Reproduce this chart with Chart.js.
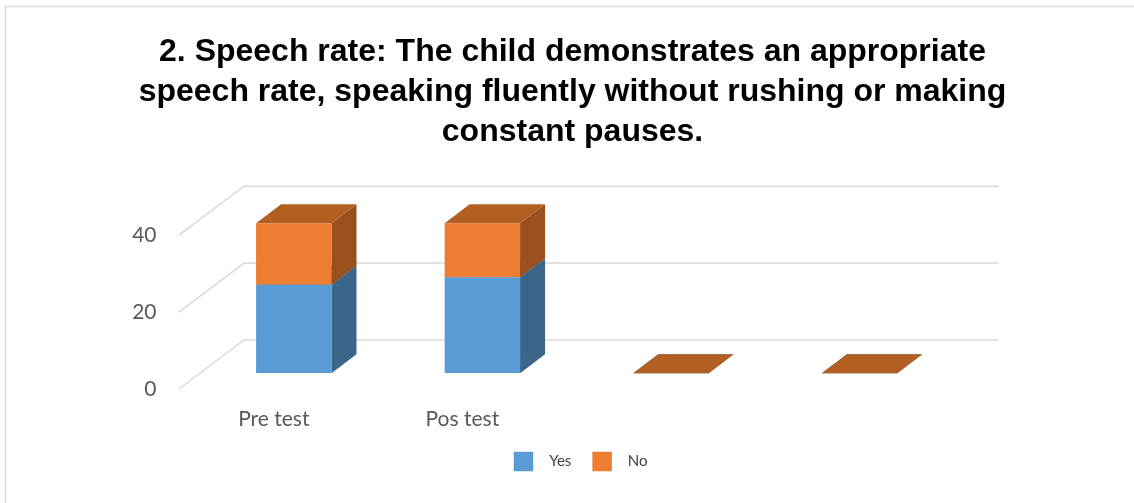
<!DOCTYPE html>
<html lang="en">
    <head>
        <meta charset="UTF-8">
        <title>Speech rate</title>
        <script src="https://cdn.jsdelivr.net/npm/chart.js"></script>
        <style>
            body, html {
                margin: 0;
                padding: 0;
                background: #ffffff;
                overflow: hidden;
            }
            #chartContainer {
                width: 1134px;
                height: 503px;
            }
        </style>
    </head>
    <body>
        <div id="chartContainer">
            <canvas id="speechChart"></canvas>
        </div>

        <script>
            const categories = ['Pre test', 'Pos test', '', ''];
            const yesValues = [23, 25, 0, 0];
            const noValues = [16, 14, 0, 0];
            const titleLines = [
                '2. Speech rate: The child demonstrates an appropriate',
                'speech rate, speaking fluently without rushing or making',
                'constant pauses.'
            ];

            // faces: [front, side, top]
            const yesColors = ['#5B9BD5', '#3B6589', '#4A7DAB'];
            const noColors = ['#ED7D31', '#9A501F', '#B45F22'];

            // oblique offsets, relative to the plane of the bar fronts
            const barDepth = { dx: 25, dy: -19 };
            const backWall = { dx: 44.5, dy: -33.3 };
            const sideFront = { dx: -20.5, dy: 15.7 };

            const legendFont = '15px Lato, "Open Sans", sans-serif';

            const wallsAndDepth = {
                id: 'wallsAndDepth',
                afterLayout(chart) {
                    chart.titleBlock.left += 5.5;
                    chart.titleBlock.right += 5.5;
                },
                beforeDraw(chart) {
                    const ctx = chart.ctx;
                    ctx.save();
                    ctx.strokeStyle = '#D9D9D9';
                    ctx.lineWidth = 1.5;
                    ctx.beginPath();
                    ctx.moveTo(5.5, chart.height);
                    ctx.lineTo(5.5, 6.5);
                    ctx.lineTo(chart.width, 6.5);
                    ctx.stroke();
                    ctx.restore();
                },
                beforeDatasetsDraw(chart) {
                    const ctx = chart.ctx;
                    const area = chart.chartArea;
                    const y = chart.scales.y;

                    ctx.save();
                    ctx.strokeStyle = '#D9D9D9';
                    ctx.lineWidth = 1.5;
                    y.ticks.forEach(t => {
                        const py = y.getPixelForValue(t.value);
                        const bx = area.left + backWall.dx;
                        const by = py + backWall.dy;
                        ctx.beginPath();
                        ctx.moveTo(area.left + sideFront.dx, py + sideFront.dy);
                        ctx.lineTo(bx, by);
                        ctx.lineTo(area.right + backWall.dx, by);
                        ctx.stroke();
                    });

                    // side and top faces of the stacked columns
                    chart.data.datasets.forEach((ds, di) => {
                        const meta = chart.getDatasetMeta(di);
                        meta.data.forEach(bar => {
                            const p = bar.getProps(['x', 'y', 'base', 'width'], true);
                            const left = p.x - p.width / 2;
                            const right = p.x + p.width / 2;
                            const top = Math.min(p.y, p.base);
                            const bottom = Math.max(p.y, p.base);

                            ctx.fillStyle = ds.faceColors[1];
                            ctx.beginPath();
                            ctx.moveTo(right, top);
                            ctx.lineTo(right + barDepth.dx, top + barDepth.dy);
                            ctx.lineTo(right + barDepth.dx, bottom + barDepth.dy);
                            ctx.lineTo(right, bottom);
                            ctx.closePath();
                            ctx.fill();

                            ctx.fillStyle = ds.faceColors[2];
                            ctx.beginPath();
                            ctx.moveTo(left, top);
                            ctx.lineTo(left + barDepth.dx, top + barDepth.dy);
                            ctx.lineTo(right + barDepth.dx, top + barDepth.dy);
                            ctx.lineTo(right, top);
                            ctx.closePath();
                            ctx.fill();
                        });
                    });
                    ctx.restore();
                },
                afterDraw(chart) {
                    // legend row under the axis, centred on the plot
                    const ctx = chart.ctx;
                    const box = 19.5, gap = 16, spacing = 21;
                    const area = chart.chartArea;
                    const cy = 461.5;
                    ctx.save();
                    ctx.font = legendFont;
                    const items = chart.data.datasets.map(ds => ({
                        text: ds.label,
                        color: ds.backgroundColor,
                        w: ctx.measureText(ds.label).width
                    }));
                    const total = items.reduce((s, it) => s + box + gap + it.w, 0) + spacing * (items.length - 1);
                    let x = (area.left + area.right) / 2 + 4 - total / 2;
                    ctx.textBaseline = 'middle';
                    ctx.textAlign = 'left';
                    items.forEach(it => {
                        ctx.fillStyle = it.color;
                        ctx.fillRect(x, cy - box / 2, box, box);
                        x += box + gap;
                        ctx.fillStyle = '#404040';
                        ctx.fillText(it.text, x, cy);
                        x += it.w + spacing;
                    });
                    ctx.restore();
                }
            };

            const ctx = document.getElementById('speechChart').getContext('2d');
            new Chart(ctx, {
                type: 'bar',
                data: {
                    labels: categories,
                    datasets: [
                        {
                            label: 'Yes',
                            data: yesValues,
                            backgroundColor: yesColors[0],
                            faceColors: yesColors,
                            borderWidth: 0
                        },
                        {
                            label: 'No',
                            data: noValues,
                            backgroundColor: noColors[0],
                            faceColors: noColors,
                            borderWidth: 0
                        }
                    ]
                },
                options: {
                    responsive: true,
                    maintainAspectRatio: false,
                    animation: false,
                    datasets: {
                        bar: {
                            categoryPercentage: 1,
                            barPercentage: 0.4
                        }
                    },
                    layout: {
                        padding: { top: 0, left: 0, right: 0, bottom: 61 }
                    },
                    plugins: {
                        tooltip: { enabled: false },
                        legend: { display: false },
                        title: {
                            display: true,
                            text: titleLines,
                            color: '#000000',
                            font: {
                                family: '"Liberation Sans", Arial, sans-serif',
                                size: 32,
                                weight: 'bold',
                                lineHeight: 1.25
                            },
                            padding: { top: 32, bottom: 67.5 }
                        }
                    },
                    scales: {
                        x: {
                            stacked: true,
                            grid: { display: false, drawTicks: false },
                            border: { display: false },
                            ticks: {
                                color: '#595959',
                                padding: 33,
                                labelOffset: -20,
                                maxRotation: 0,
                                font: { family: 'Lato, "Open Sans", sans-serif', size: 21 }
                            },
                            afterFit(scale) { scale.height = 68.7; }
                        },
                        y: {
                            stacked: true,
                            min: 0,
                            max: 40,
                            grid: { display: false, drawTicks: false },
                            border: { display: false },
                            ticks: {
                                stepSize: 20,
                                color: '#595959',
                                padding: 43,
                                labelOffset: 16,
                                font: { family: 'Lato, "Open Sans", sans-serif', size: 21 }
                            },
                            afterFit(scale) { scale.width = 199.5; }
                        },
                        yRight: {
                            position: 'right',
                            display: true,
                            grid: { display: false, drawTicks: false },
                            border: { display: false },
                            ticks: { display: false },
                            afterFit(scale) { scale.width = 180.2; }
                        }
                    }
                },
                plugins: [wallsAndDepth]
            });
        </script>
    </body>
</html>
